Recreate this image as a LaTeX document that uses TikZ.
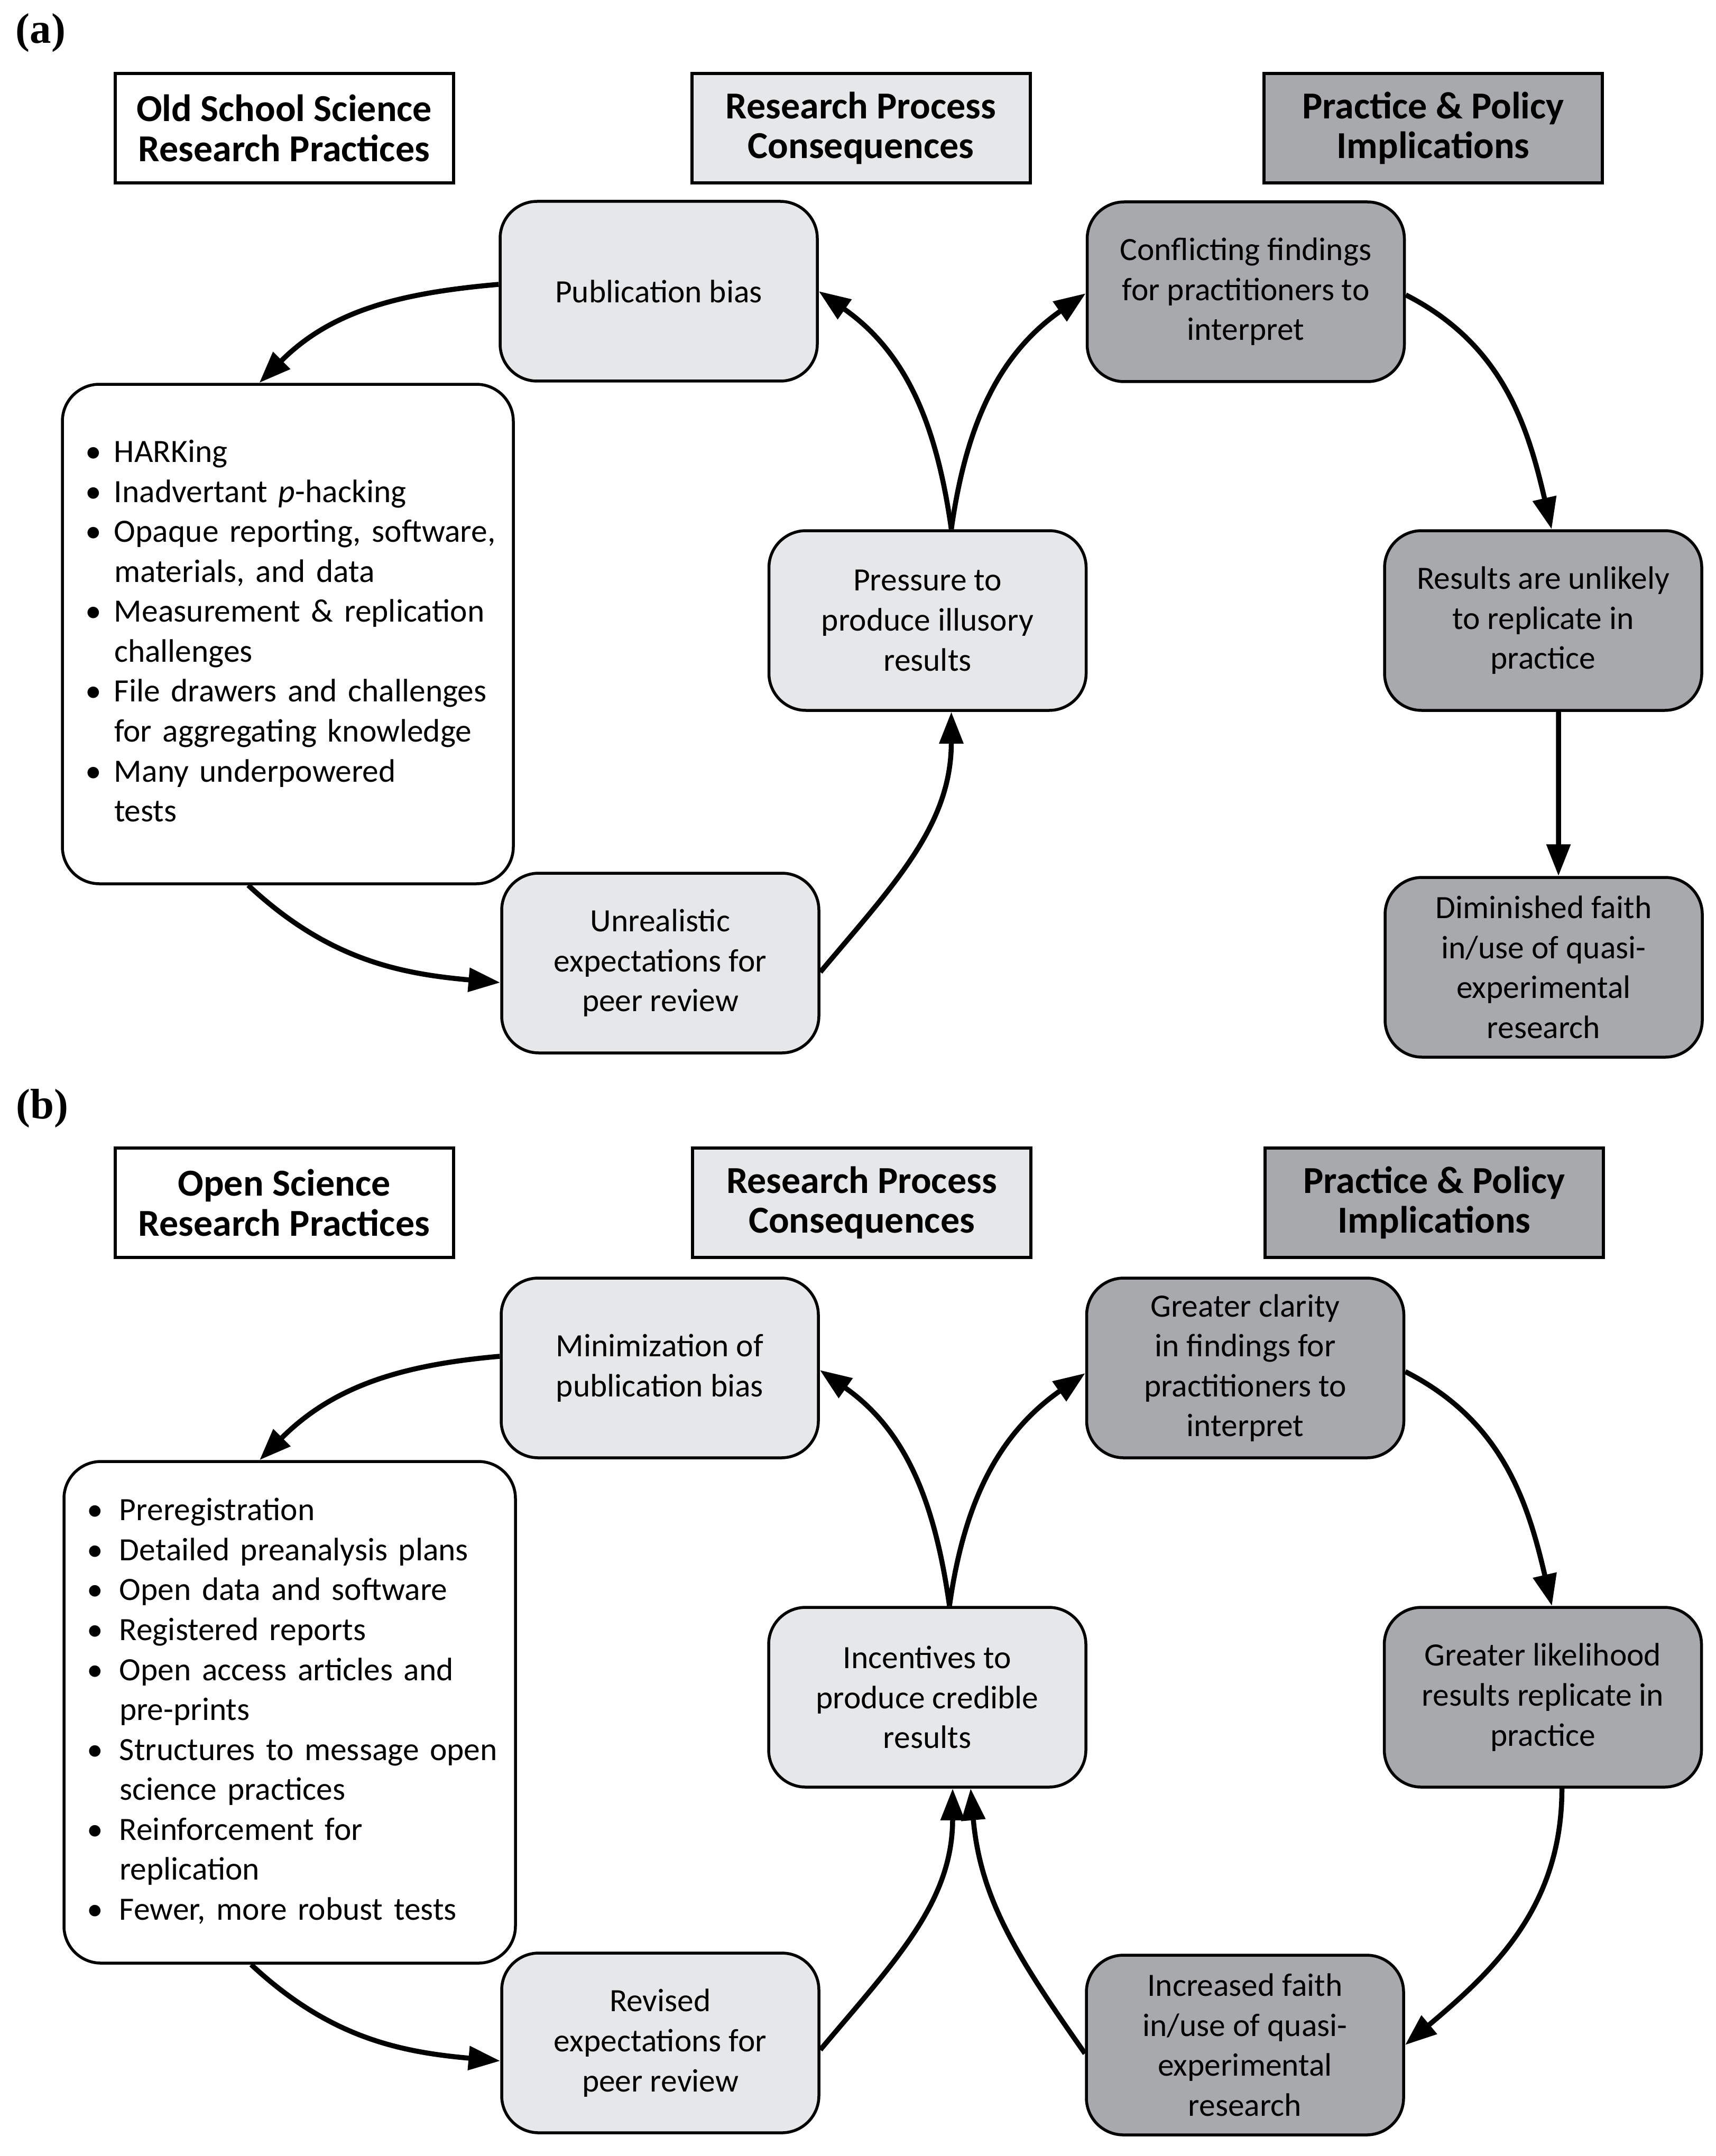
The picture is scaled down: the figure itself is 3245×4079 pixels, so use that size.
\documentclass[tikz,border=0pt]{standalone}
\usepackage{fontspec}
\setsansfont{Carlito}
\newfontfamily\labelfont{Liberation Serif}
\usetikzlibrary{arrows.meta,calc}
\definecolor{lightg}{HTML}{E6E7E8}
\definecolor{darkg}{HTML}{A7A9AC}
\newcommand{\bodyfont}{\sffamily\fontsize{17.5}{21.5}\selectfont}
\newcommand{\hdrfont}{\sffamily\fontsize{20.5}{21.5}\selectfont\bfseries}
\begin{document}
\begin{tikzpicture}[x=0.1mm,y=0.1mm,
  every node/.style={font=\bodyfont},
  hdr/.style={draw, line width=0.6mm, minimum width=64mm, minimum height=20.7mm, inner sep=0pt, align=center, font=\hdrfont},
  rbox/.style={draw, line width=0.55mm, rounded corners=7mm, minimum width=60mm, minimum height=34mm, inner sep=0pt, align=center},
  lbox/.style={rbox, fill=lightg},
  dbox/.style={rbox, fill=darkg},
  lst/.style={rbox, fill=white, align=left, inner xsep=4.3mm},
  arr/.style={line width=0.95mm, -{Triangle[length=6mm,width=4.4mm]}},
  plabel/.style={font=\labelfont\fontsize{23}{26}\selectfont\bfseries, inner sep=0pt}
]
\fill[white] (0,0) rectangle (3245,-4079);
\useasboundingbox (0,0) rectangle (3245,-4079);

% ---------------- panel (a) ----------------
\node[plabel] (la) at (77,-62) {(a)};
\node[hdr, fill=white] (h1a) at (537.5,-242.5) {Old School Science\\Research Practices};
\node[hdr, fill=lightg] (h2a) at (1628.5,-242.5) {Research Process\\Consequences};
\node[hdr, fill=darkg] (h3a) at (2711,-242.5) {Practice \& Policy\\Implications};

\node[lbox] (pba) at (1246,-551) {Publication bias};
\node[lst, minimum width=85.3mm, minimum height=94.5mm, text width=76.7mm] (bula) at (544.5,-1199.5) {%
\begin{tabular}{@{}p{5.5mm}@{}l@{}}
\textbullet & HARKing\\
\textbullet & Inadvertant \textit{p}-hacking\\
\textbullet & Opaque reporting, software,\\
 & materials, and data\\
\textbullet & Measurement \& replication\\
 & challenges\\
\textbullet & File drawers and challenges\\
 & for aggregating knowledge\\
\textbullet & Many underpowered\\
 & tests
\end{tabular}};
\node[lbox] (pra) at (1754.5,-1174) {Pressure to\\produce illusory\\results};
\node[lbox] (ura) at (1249,-1822) {Unrealistic\\expectations for\\peer review};
\node[dbox] (cfa) at (2356.5,-552) {Conflicting findings\\for practitioners to\\interpret};
\node[dbox] (rsa) at (2919,-1174) {Results are unlikely\\to replicate in\\practice};
\node[dbox] (dma) at (2920,-1830) {Diminished faith\\in/use of quasi-\\experimental\\research};

\draw[arr] ([yshift=1.3mm]pba.west) to[out=185,in=45] ([xshift=-5.4mm]bula.north);
\draw[arr] ([xshift=4.5mm]pra.north) to[out=98,in=-35] (pba.east);
\draw[arr] ([xshift=4.5mm]pra.north) to[out=82,in=215] ([yshift=-0.3mm]cfa.west);
\draw[arr] ([yshift=-1.7mm]ura.east) to[out=50,in=-90] ([xshift=4.5mm]pra.south);
\draw[arr] ([xshift=-7.5mm]bula.south) to[out=-43,in=175] ([yshift=-3.7mm]ura.west);
\draw[arr] ([yshift=-0.6mm]cfa.east) to[out=-27,in=103] ([xshift=1.6mm]rsa.north);
\draw[arr] ([xshift=2.9mm]rsa.south) -- ([xshift=2.8mm]dma.north);

% ---------------- panel (b) ----------------
\node[plabel] (lb) at (80,-2097) {(b)};
\node[hdr, fill=white] (h1b) at (537.5,-2275.5) {Open Science\\Research Practices};
\node[hdr, fill=lightg] (h2b) at (1630,-2275.5) {Research Process\\Consequences};
\node[hdr, fill=darkg] (h3b) at (2713,-2275.5) {Practice \& Policy\\Implications};

\node[lbox] (mnb) at (1248,-2588) {Minimization of\\publication bias};
\node[lst, minimum width=85.4mm, minimum height=94.9mm, text width=76.8mm] (bulb) at (548,-3239.5) {%
\begin{tabular}{@{}p{6.2mm}@{}l@{}}
\textbullet & Preregistration\\
\textbullet & Detailed preanalysis plans\\
\textbullet & Open data and software\\
\textbullet & Registered reports\\
\textbullet & Open access articles and\\
 & pre-prints\\
\textbullet & Structures to message open\\
 & science practices\\
\textbullet & Reinforcement for\\
 & replication\\
\textbullet & Fewer, more robust tests
\end{tabular}};
\node[lbox] (inb) at (1754,-3211) {Incentives to\\produce credible\\results};
\node[lbox] (rvb) at (1249,-3865) {Revised\\expectations for\\peer review};
\node[dbox] (clb) at (2355.5,-2588) {Greater clarity\\in findings for\\practitioners to\\interpret};
\node[dbox] (lkb) at (2918.5,-3211) {Greater likelihood\\results replicate in\\practice};
\node[dbox] (ifb) at (2355,-3869) {Increased faith\\in/use of quasi-\\experimental\\research};

\draw[arr] ([yshift=2.2mm]mnb.west) to[out=185,in=45] ([xshift=-5.7mm]bulb.north);
\draw[arr] ([xshift=4.2mm]inb.north) to[out=98,in=-35] ([yshift=-0.4mm]mnb.east);
\draw[arr] ([xshift=4.2mm]inb.north) to[out=82,in=215] ([yshift=-1mm]clb.west);
\draw[arr] ([yshift=-1.3mm]rvb.east) to[out=50,in=-90] ([xshift=4.8mm]inb.south);
\draw[arr] ([xshift=-7.3mm]bulb.south) to[out=-43,in=175] ([yshift=-3.4mm]rvb.west);
\draw[arr] ([yshift=-0.7mm]clb.east) to[out=-27,in=103] ([xshift=1.7mm]lkb.north);
\draw[arr] ([xshift=3.6mm]lkb.south) to[out=-90,in=40] (ifb.east);
\draw[arr] ([yshift=-1.6mm]ifb.west) to[out=125,in=-85] ([xshift=8.2mm]inb.south);
\end{tikzpicture}
\end{document}
